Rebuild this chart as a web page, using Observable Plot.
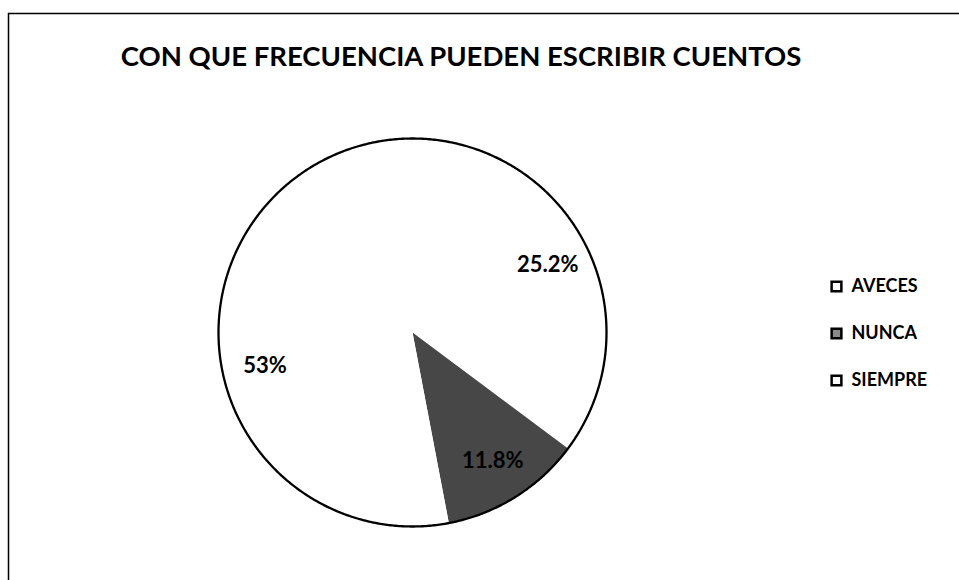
<!DOCTYPE html>
<html>
<head>
<meta charset="utf-8">
<script src="https://cdn.jsdelivr.net/npm/d3@7"></script>
<script src="https://cdn.jsdelivr.net/npm/@observablehq/plot@0.6"></script>
<style>
  html, body { margin: 0; padding: 0; background: #fff; }
  svg { display: block; font-family: Lato, "Liberation Sans", sans-serif; }
</style>
</head>
<body>
<div id="chart"></div>
<script>
const title = "CON QUE FRECUENCIA PUEDEN ESCRIBIR CUENTOS";
const categories = ["AVECES", "NUNCA", "SIEMPRE"];
const values = [35.2, 11.8, 53];
const labels = ["25.2%", "11.8%", "53%"];
const fills = ["#ffffff", "#474747", "#ffffff"];
const legendFills = ["#ffffff", "#8a8a8a", "#ffffff"];

// layout
const W = 959, H = 580;
const cx = 412, cy = 332, R = 194;
const labelR = 0.78 * R;
const labelAngleShift = [0, 0, -7.5]; // degrees, label placement tweak
const legendX = 836, legendY0 = 286, legendStep = 47;

const rows = categories.map((c, i) => ({category: c, value: values[i], label: labels[i], fill: fills[i]}));
const arcs = d3.pie().sort(null).value(d => d.value)(rows);

const px = a => cx + R * Math.sin(a);
const py = a => cy - R * Math.cos(a);

const slicePts = [];
arcs.forEach(a => {
  slicePts.push({category: a.data.category, x: cx, y: cy});
  const n = Math.max(2, Math.ceil((a.endAngle - a.startAngle) / (Math.PI / 360)));
  for (let k = 0; k <= n; k++) {
    const t = a.startAngle + (a.endAngle - a.startAngle) * k / n;
    slicePts.push({category: a.data.category, x: px(t), y: py(t)});
  }
  slicePts.push({category: a.data.category, x: cx, y: cy});
});

const circlePts = d3.range(0, 721).map(k => {
  const t = k / 720 * 2 * Math.PI;
  return {x: px(t), y: py(t)};
});

const labelRows = arcs.map((a, i) => {
  const m = (a.startAngle + a.endAngle) / 2 + labelAngleShift[i] * Math.PI / 180;
  return {text: a.data.label, x: cx + labelR * Math.sin(m), y: cy - labelR * Math.cos(m)};
});

const legendRows = categories.map((c, i) => ({category: c, fill: legendFills[i], y: legendY0 + i * legendStep}));

const chart = Plot.plot({
  width: W,
  height: H,
  margin: 0,
  x: {domain: [0, W], range: [0, W], axis: null},
  y: {domain: [0, H], range: [0, H], axis: null},
  color: {domain: categories, range: fills},
  marks: [
    Plot.ruleY([13], {x1: 8, x2: W, stroke: "#000", strokeWidth: 1.5}),
    Plot.ruleX([8], {y1: 13, y2: H, stroke: "#000", strokeWidth: 1.5}),
    Plot.line(slicePts, {x: "x", y: "y", z: "category", fill: "category", stroke: "none", curve: "linear"}),
    Plot.line(circlePts, {x: "x", y: "y", stroke: "#000", strokeWidth: 2.3, curve: "linear"}),
    Plot.text(labelRows, {x: "x", y: "y", text: "text", fill: "#000", fontSize: 22, fontWeight: "bold", letterSpacing: "-0.5px"}),
    Plot.text([title], {frameAnchor: "top", lineAnchor: "middle", dx: -19, dy: 57, text: d => d, fontSize: 27.5, fontWeight: "bold", fill: "#000"}),
    Plot.dot(legendRows, {x: () => legendX, y: "y", symbol: "square", r: 5.5, fill: "fill", stroke: "#000", strokeWidth: 2.5}),
    Plot.text(legendRows, {x: () => legendX + 15, y: "y", text: "category", textAnchor: "start", fontSize: 18, fontWeight: "bold", fill: "#000"})
  ]
});
document.getElementById("chart").appendChild(chart);
</script>
</body>
</html>
